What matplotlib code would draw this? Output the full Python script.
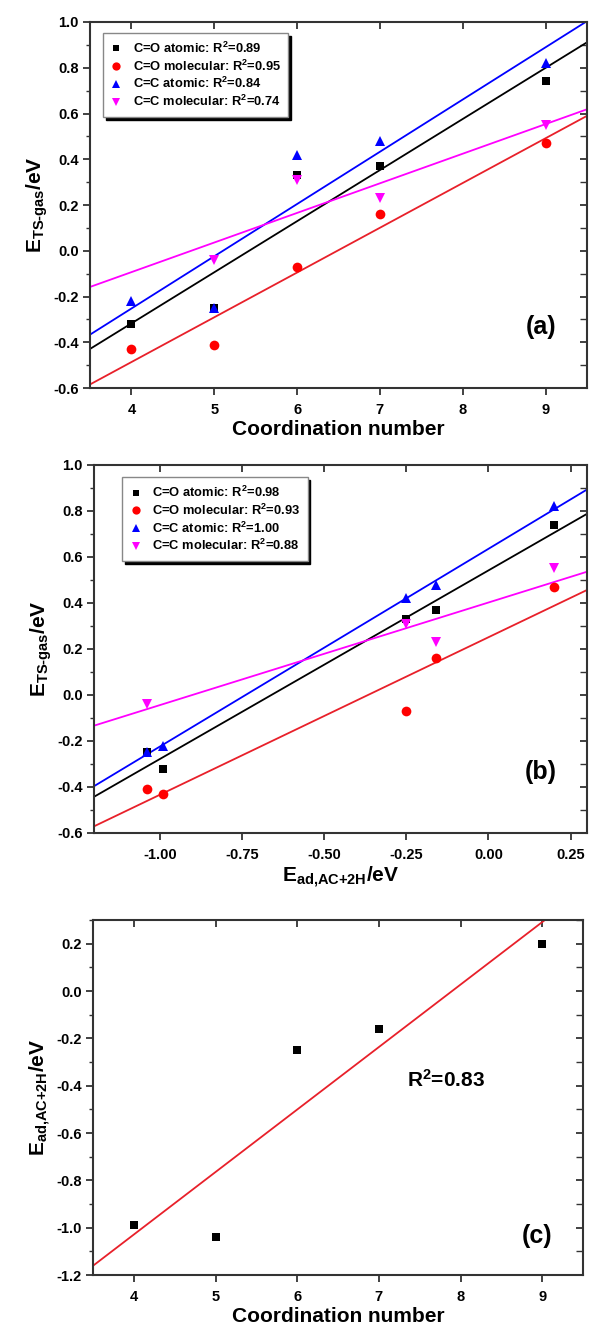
import numpy as np
import matplotlib
matplotlib.use("Agg")
import matplotlib.pyplot as plt
from matplotlib.ticker import MultipleLocator, FormatStrFormatter

plt.rcParams['font.family'] = ['Liberation Sans', 'DejaVu Sans']
plt.rcParams['font.weight'] = 'bold'
plt.rcParams['mathtext.fontset'] = 'custom'
plt.rcParams['mathtext.rm'] = 'Liberation Sans:bold'
plt.rcParams['mathtext.bf'] = 'Liberation Sans:bold'
plt.rcParams['mathtext.it'] = 'Liberation Sans:bold'
plt.rcParams['axes.unicode_minus'] = False

# ---- data ----
coord_number = [4, 5, 6, 7, 9]
e_ad = [-0.99, -1.04, -0.25, -0.16, 0.20]
co_atomic = [-0.32, -0.25, 0.33, 0.37, 0.74]
co_molecular = [-0.43, -0.41, -0.07, 0.16, 0.47]
cc_atomic = [-0.22, -0.25, 0.42, 0.48, 0.82]
cc_molecular = [np.nan, -0.04, 0.31, 0.23, 0.55]

series_names = ['C=O atomic', 'C=O molecular', 'C=C atomic', 'C=C molecular']
r2_a = ['0.89', '0.95', '0.84', '0.74']
r2_b = ['0.98', '0.93', '1.00', '0.88']
r2_c = '0.83'

markers = ['s', 'o', '^', 'v']
marker_colors = ['#000000', '#ff0000', '#0000ff', '#ff00ff']
line_colors = ['#000000', '#e8202a', '#0000ff', '#ff00ff']
marker_sizes = [5.5, 7, 6.5, 6.5]

spine_color = '#333333'

fig = plt.figure(figsize=(5.89, 13.33), dpi=100)
ax_a = fig.add_axes([0.1528, 0.7089, 0.8438, 0.2746])
ax_b = fig.add_axes([0.1596, 0.3751, 0.8370, 0.2761])
ax_c = fig.add_axes([0.1579, 0.0435, 0.8320, 0.2663])


def style_axes(ax, xmajor, ymajor, yminor, xfmt=None, yfmt='%.1f'):
    for s in ax.spines.values():
        s.set_linewidth(1.5)
        s.set_color(spine_color)
    ax.xaxis.set_major_locator(MultipleLocator(xmajor))
    ax.yaxis.set_major_locator(MultipleLocator(ymajor))
    ax.yaxis.set_minor_locator(MultipleLocator(yminor))
    ax.tick_params(axis='both', which='major', direction='out', length=5,
                   width=1.3, color=spine_color, labelsize=10.5, pad=3)
    ax.tick_params(axis='x', which='major', pad=6)
    ax.tick_params(axis='y', which='minor', direction='out', length=3,
                   width=1.0, color=spine_color)
    if xfmt:
        ax.xaxis.set_major_formatter(FormatStrFormatter(xfmt))
    ax.yaxis.set_major_formatter(FormatStrFormatter(yfmt))
    for lab in ax.get_xticklabels() + ax.get_yticklabels():
        lab.set_fontweight('bold')
    top = ax.secondary_xaxis('top')
    top.xaxis.set_major_locator(MultipleLocator(xmajor))
    top.tick_params(direction='in', length=5, width=1.3, color=spine_color,
                    labeltop=False)
    top.spines['top'].set_visible(False)
    right = ax.secondary_yaxis('right')
    right.yaxis.set_major_locator(MultipleLocator(ymajor))
    right.yaxis.set_minor_locator(MultipleLocator(yminor))
    right.tick_params(which='major', direction='in', length=5, width=1.3,
                      color=spine_color, labelright=False)
    right.tick_params(which='minor', direction='in', length=5, width=1.0,
                      color=spine_color, labelright=False)
    right.spines['right'].set_visible(False)


def plot_panel(ax, x, xlim, r2):
    x = np.asarray(x, float)
    handles = []
    all_y = [co_atomic, co_molecular, cc_atomic, cc_molecular]
    xs = np.array(xlim)
    for i, y in enumerate(all_y):
        y = np.asarray(y, float)
        m = ~np.isnan(y)
        k, b = np.polyfit(x[m], y[m], 1)
        ax.plot(xs, k * xs + b, color=line_colors[i], lw=1.3, zorder=2)
    for i, y in enumerate(all_y):
        h, = ax.plot(x, y, linestyle='none', marker=markers[i],
                     color=marker_colors[i], ms=marker_sizes[i], mew=0,
                     zorder=3, label=f'{series_names[i]}: R$^2$={r2[i]}')
        handles.append(h)
    return handles


def make_legend(ax, handles, anchor):
    leg = ax.legend(handles=handles, loc='upper left', bbox_to_anchor=anchor,
                    borderaxespad=0, fontsize=9.3, frameon=True, fancybox=False,
                    shadow={'color': 'black', 'alpha': 1}, handlelength=0.9,
                    handletextpad=0.8, labelspacing=0.2, borderpad=0.6,
                    markerscale=0.85)
    leg.get_frame().set_edgecolor('#888888')
    leg.get_frame().set_linewidth(1.0)
    return leg


ylab_ts = r'E$_{\text{TS-gas}}$/eV'
lab_ad = r'E$_{\text{ad,AC+2H}}$/eV'

# ---- panel (a) ----
xl_a = (3.5, 9.5)
h = plot_panel(ax_a, coord_number, xl_a, r2_a)
ax_a.set_xlim(*xl_a)
ax_a.set_ylim(-0.6, 1.0)
style_axes(ax_a, 1, 0.2, 0.1, xfmt='%d')
ax_a.set_xlabel('Coordination number', fontsize=15, fontweight='bold', labelpad=2)
ax_a.set_ylabel(ylab_ts, fontsize=15, fontweight='bold', labelpad=2)
make_legend(ax_a, h, (0.026, 0.97))
ax_a.text(0.907, 0.167, '(a)', transform=ax_a.transAxes, fontsize=18,
          fontweight='bold', ha='center', va='center')

# ---- panel (b) ----
xl_b = (-1.2, 0.3)
h = plot_panel(ax_b, e_ad, xl_b, r2_b)
ax_b.set_xlim(*xl_b)
ax_b.set_ylim(-0.6, 1.0)
style_axes(ax_b, 0.25, 0.2, 0.1, xfmt='%.2f')
ax_b.set_xlabel(lab_ad, fontsize=15, fontweight='bold', labelpad=2)
ax_b.set_ylabel(ylab_ts, fontsize=15, fontweight='bold', labelpad=2)
make_legend(ax_b, h, (0.057, 0.967))
ax_b.text(0.907, 0.167, '(b)', transform=ax_b.transAxes, fontsize=18,
          fontweight='bold', ha='center', va='center')

# ---- panel (c) ----
xl_c = np.array([3.5, 9.5])
cn = np.asarray(coord_number, float)
ead = np.asarray(e_ad, float)
k, b = np.polyfit(cn, ead, 1)
ax_c.plot(xl_c, k * xl_c + b, color=line_colors[1], lw=1.3, zorder=2)
ax_c.plot(cn, ead, linestyle='none', marker='s', color='black', ms=5.5, mew=0, zorder=3)
ax_c.set_xlim(*xl_c)
ax_c.set_ylim(-1.2, 0.3)
style_axes(ax_c, 1, 0.2, 0.1, xfmt='%d')
ax_c.set_xlabel('Coordination number', fontsize=15, fontweight='bold', labelpad=2)
ax_c.set_ylabel(lab_ad, fontsize=15, fontweight='bold', labelpad=2)
ax_c.text(0.72, 0.55, f'R$^2$={r2_c}', transform=ax_c.transAxes, fontsize=15,
          fontweight='bold', ha='center', va='center')
ax_c.text(0.907, 0.11, '(c)', transform=ax_c.transAxes, fontsize=18,
          fontweight='bold', ha='center', va='center')

fig.savefig('out.png', dpi=100)
